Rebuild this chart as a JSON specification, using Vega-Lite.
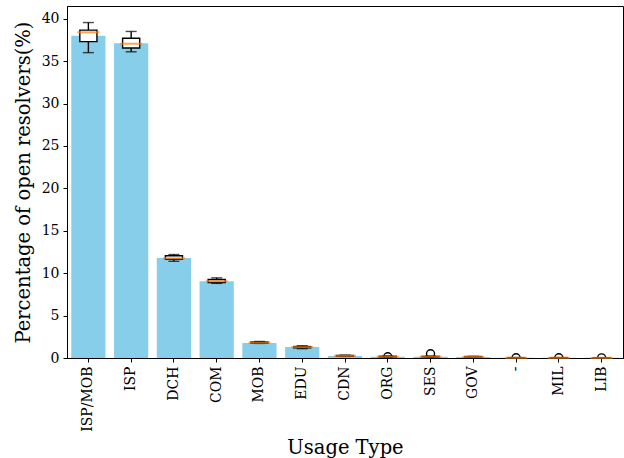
{
  "$schema": "https://vega.github.io/schema/vega-lite/v6.json",
  "width": 556,
  "height": 352,
  "autosize": {"type": "none"},
  "padding": {"left": 67, "top": 6, "right": 1, "bottom": 100},
  "config": {
    "view": {"stroke": "black", "strokeWidth": 1},
    "font": "DejaVu Serif",
    "axis": {
      "labelFont": "DejaVu Serif",
      "titleFont": "DejaVu Serif",
      "labelColor": "black",
      "titleColor": "black",
      "domainColor": "black",
      "tickColor": "black",
      "labelFontSize": 14,
      "titleFontSize": 19.5,
      "titleFontWeight": "normal",
      "tickSize": 4,
      "grid": false
    }
  },
  "data": {
    "values": [
      {"type": "ISP/MOB", "bar": 38.0, "min": 36.0, "q1": 37.3, "med": 38.4, "q3": 38.65, "max": 39.55, "outlier": null},
      {"type": "ISP", "bar": 37.1, "min": 36.1, "q1": 36.55, "med": 37.05, "q3": 37.7, "max": 38.5, "outlier": null},
      {"type": "DCH", "bar": 11.8, "min": 11.4, "q1": 11.65, "med": 11.75, "q3": 12.05, "max": 12.2, "outlier": null},
      {"type": "COM", "bar": 9.05, "min": 8.8, "q1": 8.9, "med": 9.05, "q3": 9.25, "max": 9.45, "outlier": null},
      {"type": "MOB", "bar": 1.78, "min": 1.72, "q1": 1.75, "med": 1.8, "q3": 1.88, "max": 1.95, "outlier": null},
      {"type": "EDU", "bar": 1.3, "min": 1.1, "q1": 1.2, "med": 1.28, "q3": 1.35, "max": 1.45, "outlier": null},
      {"type": "CDN", "bar": 0.25, "min": 0.18, "q1": 0.2, "med": 0.25, "q3": 0.3, "max": 0.34, "outlier": null},
      {"type": "ORG", "bar": 0.16, "min": 0.1, "q1": 0.13, "med": 0.16, "q3": 0.2, "max": 0.24, "outlier": 0.14},
      {"type": "SES", "bar": 0.15, "min": 0.1, "q1": 0.12, "med": 0.15, "q3": 0.19, "max": 0.23, "outlier": 0.5},
      {"type": "GOV", "bar": 0.13, "min": 0.09, "q1": 0.11, "med": 0.13, "q3": 0.17, "max": 0.2, "outlier": null},
      {"type": "-", "bar": 0.03, "min": 0.01, "q1": 0.02, "med": 0.03, "q3": 0.04, "max": 0.05, "outlier": 0.03},
      {"type": "MIL", "bar": 0.03, "min": 0.01, "q1": 0.02, "med": 0.03, "q3": 0.04, "max": 0.05, "outlier": 0.03},
      {"type": "LIB", "bar": 0.02, "min": 0.005, "q1": 0.01, "med": 0.02, "q3": 0.03, "max": 0.04, "outlier": 0.01}
    ]
  },
  "encoding": {
    "x": {
      "field": "type",
      "type": "nominal",
      "sort": null,
      "scale": {"paddingInner": 0.2, "paddingOuter": 0.1},
      "axis": {"title": "Usage Type", "labelAngle": -90, "labelPadding": 4, "titlePadding": 7}
    }
  },
  "layer": [
    {
      "mark": {"type": "bar", "color": "#87CEEB"},
      "encoding": {
        "y": {
          "field": "bar",
          "type": "quantitative",
          "scale": {"domain": [0, 41.5], "nice": false},
          "axis": {"title": "Percentage of open resolvers(%)", "values": [0, 5, 10, 15, 20, 25, 30, 35, 40], "labelPadding": 4, "titlePadding": 8}
        }
      }
    },
    {
      "mark": {"type": "rule", "color": "black", "strokeWidth": 1.4},
      "encoding": {"y": {"field": "min", "type": "quantitative"}, "y2": {"field": "q1"}}
    },
    {
      "mark": {"type": "rule", "color": "black", "strokeWidth": 1.4},
      "encoding": {"y": {"field": "q3", "type": "quantitative"}, "y2": {"field": "max"}}
    },
    {
      "mark": {"type": "tick", "color": "black", "size": 11, "thickness": 1.4},
      "encoding": {"y": {"field": "min", "type": "quantitative"}}
    },
    {
      "mark": {"type": "tick", "color": "black", "size": 11, "thickness": 1.4},
      "encoding": {"y": {"field": "max", "type": "quantitative"}}
    },
    {
      "mark": {"type": "bar", "fill": "white", "stroke": "black", "strokeWidth": 1.4, "width": {"band": 0.5}},
      "encoding": {"y": {"field": "q1", "type": "quantitative"}, "y2": {"field": "q3"}}
    },
    {
      "mark": {"type": "point", "filled": false, "stroke": "black", "strokeWidth": 1.4, "size": 64, "clip": true, "opacity": 1},
      "encoding": {"y": {"field": "outlier", "type": "quantitative"}}
    },
    {
      "mark": {"type": "tick", "color": "#ff7f0e", "size": 22, "thickness": 2},
      "encoding": {"y": {"field": "med", "type": "quantitative"}}
    }
  ]
}
